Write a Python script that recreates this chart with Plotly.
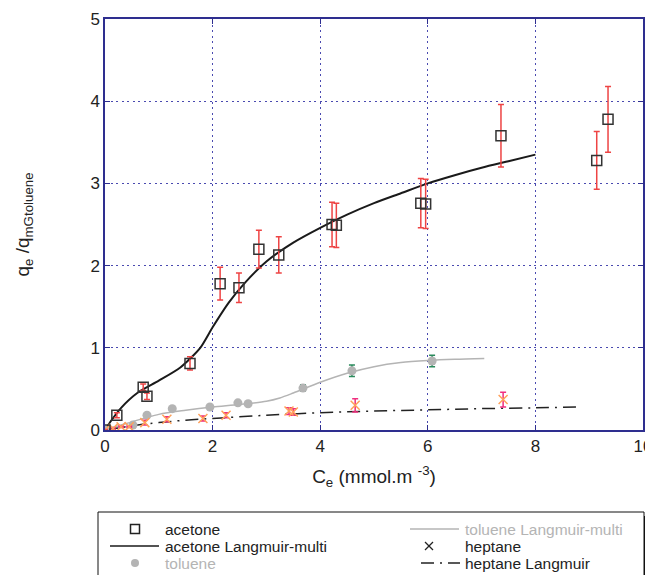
import plotly.graph_objects as go

# ---------------- data ----------------
acetone_x = [0, 0.22, 0.71, 0.78, 1.58, 2.14, 2.49, 2.86, 3.23, 4.22, 4.30, 5.87, 5.96, 7.36, 9.14, 9.35]
acetone_y = [0, 0.18, 0.52, 0.41, 0.81, 1.78, 1.73, 2.20, 2.13, 2.50, 2.49, 2.76, 2.75, 3.58, 3.28, 3.78]
acetone_err = [0, 0.03, 0.04, 0.04, 0.08, 0.20, 0.18, 0.23, 0.22, 0.27, 0.27, 0.30, 0.30, 0.38, 0.35, 0.40]

acetone_fit_x = [0, 0.1, 0.3, 0.6, 1.0, 1.4, 1.77, 2.0, 2.3, 2.6, 3.0, 3.5, 4.0, 4.5, 5.0, 5.5, 6.0, 6.5, 7.0, 7.5, 8.0]
acetone_fit_y = [0, 0.10, 0.27, 0.45, 0.60, 0.76, 1.00, 1.25, 1.55, 1.79, 2.05, 2.28, 2.46, 2.62, 2.76, 2.88, 3.00, 3.10, 3.19, 3.27, 3.35]

toluene_x = [0, 0.52, 0.78, 1.25, 1.95, 2.47, 2.66, 3.68, 4.59, 6.08]
toluene_y = [0, 0.06, 0.18, 0.26, 0.28, 0.33, 0.32, 0.51, 0.72, 0.84]
toluene_err = [0, 0, 0.01, 0.01, 0.01, 0.01, 0.01, 0.04, 0.07, 0.07]

toluene_fit_x = [0, 0.4, 1.0, 1.5, 2.0, 2.5, 3.0, 3.25, 3.5, 4.0, 4.5, 5.0, 5.5, 6.0, 6.5, 7.05]
toluene_fit_y = [0, 0.08, 0.19, 0.24, 0.28, 0.31, 0.35, 0.39, 0.45, 0.58, 0.69, 0.77, 0.82, 0.845, 0.86, 0.87]

heptane_x = [0, 0.15, 0.30, 0.45, 0.74, 1.15, 1.82, 2.25, 3.42, 3.50, 4.65, 7.40]
heptane_y = [0, 0.02, 0.04, 0.04, 0.09, 0.13, 0.14, 0.18, 0.23, 0.22, 0.30, 0.37]
heptane_err = [0.01, 0.01, 0.01, 0.01, 0.03, 0.03, 0.03, 0.03, 0.04, 0.04, 0.08, 0.09]

heptane_fit_x = [0, 0.3, 0.7, 1.0, 1.5, 2.0, 3.0, 4.0, 5.0, 6.0, 7.0, 8.0, 8.8]
heptane_fit_y = [0, 0.03, 0.07, 0.09, 0.12, 0.14, 0.18, 0.21, 0.23, 0.245, 0.26, 0.27, 0.28]

legend_labels = ["acetone", "acetone Langmuir-multi", "toluene",
                 "toluene Langmuir-multi", "heptane", "heptane Langmuir"]

# ---------------- figure ----------------
OFF = 8  # page body margin of the html page
W, H = 653 - OFF, 575 - OFF
PLOT_L, PLOT_R, PLOT_T, PLOT_B = 105, 643, 19, 430  # target page pixels
ML, MR = PLOT_L - OFF, (OFF + W) - PLOT_R
MT, MB = PLOT_T - OFF, (OFF + H) - PLOT_B
PW, PH = W - ML - MR, H - MT - MB
FONT = "Liberation Sans, Arial, sans-serif"
NAVY = "#2e2e8f"
GRIDC = "#4a4ab0"
GRAYT = "#b4b4b4"

fig = go.Figure()

fig.add_trace(go.Scatter(x=toluene_fit_x, y=toluene_fit_y, mode="lines",
                         line=dict(color=GRAYT, width=1.5, shape="spline", smoothing=0.8), showlegend=False))
fig.add_trace(go.Scatter(x=heptane_fit_x, y=heptane_fit_y, mode="lines",
                         line=dict(color="#222222", width=1.5, dash="13px,6px,2px,6px", shape="spline"),
                         showlegend=False))
fig.add_trace(go.Scatter(x=acetone_fit_x, y=acetone_fit_y, mode="lines",
                         line=dict(color="#1a1a1a", width=2, shape="spline", smoothing=0.7), showlegend=False))

fig.add_trace(go.Scatter(x=toluene_x, y=toluene_y, mode="markers",
                         marker=dict(symbol="circle", size=9, color="#b4b4b4"),
                         error_y=dict(type="data", array=toluene_err, color="#2a8a5c", thickness=1.5, width=3),
                         showlegend=False))
fig.add_trace(go.Scatter(x=heptane_x, y=heptane_y, mode="markers",
                         marker=dict(symbol="x-thin-open", size=9, line=dict(color="#222222", width=1.5)),
                         error_y=dict(type="data", array=heptane_err, color="#f0307f", thickness=1.5, width=3),
                         showlegend=False))
fig.add_trace(go.Scatter(x=acetone_x, y=acetone_y, mode="markers",
                         marker=dict(symbol="square-open", size=10, color="#333333", line=dict(width=1.5)),
                         error_y=dict(type="data", array=acetone_err, color="#ee4444", thickness=1.5, width=3),
                         showlegend=False))


def px(xp):
    # page pixel x -> paper coordinate
    return (xp - PLOT_L) / PW


def py(yp):
    # page pixel y -> paper coordinate
    return (PLOT_B - yp) / PH


shapes = []
annotations = []

# legend box with shadow
shapes.append(dict(type="rect", xref="paper", yref="paper",
                   x0=px(102), x1=px(649), y0=py(600), y1=py(516),
                   fillcolor="#111111", line=dict(width=0), layer="above"))
shapes.append(dict(type="rect", xref="paper", yref="paper",
                   x0=px(98), x1=px(644), y0=py(600), y1=py(512),
                   fillcolor="white", line=dict(color="#111111", width=1), layer="above"))

rows = [529, 546, 563]
col_sym = [135, 429]
col_text = [163, 463]

# acetone square
shapes.append(dict(type="rect", xref="paper", yref="paper",
                   x0=px(col_sym[0] - 4.5), x1=px(col_sym[0] + 4.5),
                   y0=py(rows[0] + 4.5), y1=py(rows[0] - 4.5),
                   line=dict(color="#222222", width=1.5), layer="above"))
# acetone LM line
shapes.append(dict(type="line", xref="paper", yref="paper",
                   x0=px(110), x1=px(159), y0=py(rows[1]), y1=py(rows[1]),
                   line=dict(color="#1a1a1a", width=1.5), layer="above"))
# toluene circle
shapes.append(dict(type="circle", xref="paper", yref="paper",
                   x0=px(col_sym[0] - 4), x1=px(col_sym[0] + 4),
                   y0=py(rows[2] + 4), y1=py(rows[2] - 4),
                   fillcolor="#b4b4b4", line=dict(color="#b4b4b4", width=0), layer="above"))
# toluene LM line
shapes.append(dict(type="line", xref="paper", yref="paper",
                   x0=px(410), x1=px(459), y0=py(rows[0]), y1=py(rows[0]),
                   line=dict(color=GRAYT, width=1.5), layer="above"))
# heptane x
for dy in (1, -1):
    shapes.append(dict(type="line", xref="paper", yref="paper",
                       x0=px(col_sym[1] - 4), x1=px(col_sym[1] + 4),
                       y0=py(rows[1] - 4 * dy), y1=py(rows[1] + 4 * dy),
                       line=dict(color="#222222", width=1.3), layer="above"))
# heptane Langmuir dash
shapes.append(dict(type="line", xref="paper", yref="paper",
                   x0=px(421), x1=px(460), y0=py(rows[2]), y1=py(rows[2]),
                   line=dict(color="#222222", width=1.5, dash="13px,6px,2px,6px"), layer="above"))

text_colors = ["#222222", "#222222", GRAYT, GRAYT, "#222222", "#222222"]
for i, lab in enumerate(legend_labels):
    col = i // 3
    row = i % 3
    annotations.append(dict(xref="paper", yref="paper", x=px(col_text[col]), y=py(rows[row]),
                            xanchor="left", yanchor="middle", showarrow=False, text=lab,
                            font=dict(family=FONT, size=15.5, color=text_colors[i])))

fig.update_layout(
    width=W, height=H,
    margin=dict(l=ML, r=MR, t=MT, b=MB, pad=0, autoexpand=False),
    plot_bgcolor="white", paper_bgcolor="white",
    font=dict(family=FONT, size=17, color="#222222"),
    shapes=shapes, annotations=annotations,
    showlegend=False,
)
fig.update_xaxes(range=[0, 10], dtick=2, tick0=0, showline=True, linecolor=NAVY, linewidth=1.5,
                 mirror="ticks", ticks="inside", ticklen=5, tickcolor=NAVY, automargin=False,
                 showgrid=True, gridcolor=GRIDC, griddash="2px,3.5px", gridwidth=1.3, zeroline=False,
                 title=dict(text="C<sub>e</sub> (mmol.m <sup>-3</sup>)", font=dict(size=19), standoff=15),
                 tickfont=dict(size=17))
fig.update_yaxes(range=[0, 5], dtick=1, tick0=0, showline=True, linecolor=NAVY, linewidth=1.5,
                 mirror="ticks", ticks="inside", ticklen=5, tickcolor=NAVY, automargin=False,
                 showgrid=True, gridcolor=GRIDC, griddash="2px,3.5px", gridwidth=1.3, zeroline=False,
                 title=dict(text="q<sub>e</sub> /q<sub>mGtoluene</sub>", font=dict(size=19), standoff=56),
                 tickfont=dict(size=17))

fig.write_html("out.html")
